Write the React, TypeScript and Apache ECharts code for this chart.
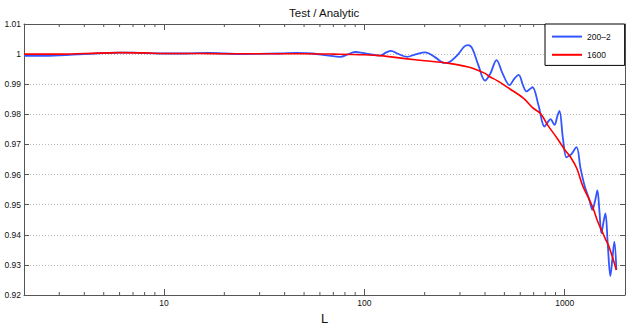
import React, { useEffect, useRef } from "react";
import * as echarts from "echarts";

const titleText = "Test / Analytic";
const xName = "L";
const legendNames = ["200–2", "1600"];

const blueL = [2, 2.5, 3, 3.5, 4, 5, 6, 7, 8, 10, 13, 16.5, 20, 25, 30, 38, 46, 55, 65, 76, 82, 90, 98, 106, 120, 128, 136, 146, 163, 180, 201, 225, 250, 262, 290, 315, 330, 345, 370, 400, 425, 457, 490, 531, 560, 589, 620, 645, 670, 691, 740, 793, 820, 849, 889, 920, 942, 980, 1021, 1060, 1081, 1145, 1200, 1260, 1328, 1374, 1420, 1456, 1490, 1525, 1560, 1597, 1640, 1690, 1730, 1770, 1811];
const blueV = [0.9994, 0.9994, 0.9996, 0.9998, 1.0, 1.0003, 1.0005, 1.0005, 1.0003, 1.0002, 1.0002, 1.0004, 1.0002, 1.0, 1.0001, 1.0002, 1.0004, 1.0002, 0.9996, 0.9991, 0.9998, 1.0007, 1.0004, 1.0, 0.9995, 1.0005, 1.0011, 1.0002, 0.9991, 0.9999, 1.0006, 0.999, 0.9971, 0.9972, 0.9995, 1.0025, 1.003, 1.002, 0.9965, 0.9912, 0.9935, 0.998, 0.9935, 0.9897, 0.9918, 0.9931, 0.9895, 0.9876, 0.9884, 0.989, 0.983, 0.9759, 0.9772, 0.9784, 0.9765, 0.9795, 0.9811, 0.972, 0.9657, 0.9664, 0.9668, 0.9691, 0.962, 0.956, 0.9516, 0.9483, 0.9515, 0.9547, 0.948, 0.9405, 0.944, 0.9471, 0.937, 0.9263, 0.932, 0.9377, 0.9283];

const redL = [2, 3, 4, 6, 8, 10, 15, 20, 30, 50, 70, 100, 120, 160, 200, 260, 330, 400, 422, 460, 531, 624, 691, 757, 821, 918, 1007, 1067, 1150, 1226, 1328, 1390, 1460, 1525, 1600, 1652, 1730, 1811];
const redV = [1.0, 1.0, 1.0002, 1.0005, 1.0004, 1.0002, 1.0002, 1.0001, 1.0001, 1.0001, 1.0, 0.9998, 0.9995, 0.9985, 0.9978, 0.997, 0.9957, 0.9936, 0.9925, 0.9912, 0.9885, 0.9853, 0.9822, 0.9803, 0.9765, 0.972, 0.968, 0.9659, 0.962, 0.9565, 0.9516, 0.9486, 0.9445, 0.9416, 0.9385, 0.9366, 0.9327, 0.9283];

const majorXLabels = [10, 100, 1000];
const minorXTicks = [3, 4, 5, 6, 7, 8, 9, 20, 30, 40, 50, 60, 70, 80, 90, 200, 300, 400, 500, 600, 700, 800, 900];

const X_MIN = 2;
const X_MAX = 2000;
const Y_MIN = 0.92;
const Y_MAX = 1.01;
const Y_STEP = 0.01;

const FONT = "'Liberation Sans', Arial, Helvetica, sans-serif";
const AXIS_COLOR = "#555";

export default function App() {
  const ref = useRef<HTMLDivElement>(null);
  useEffect(() => {
    if (!ref.current) return;
    const chart = echarts.init(ref.current, undefined, { renderer: "svg" });
    const axisCommon = {
      type: "log" as const,
      logBase: 10,
      min: X_MIN,
      max: X_MAX,
      axisLine: { show: true, lineStyle: { color: AXIS_COLOR, width: 1 } },
      axisTick: { show: true, inside: true, length: 6, lineStyle: { color: AXIS_COLOR } },
      splitLine: { show: false },
      minorTick: { show: false },
    };
    const yCommon = {
      type: "value" as const,
      min: Y_MIN,
      max: Y_MAX,
      interval: Y_STEP,
      axisLine: { show: true, lineStyle: { color: AXIS_COLOR, width: 1 } },
      axisTick: { show: true, inside: true, length: 5, lineStyle: { color: AXIS_COLOR } },
    };
    chart.setOption({
      animation: false,
      backgroundColor: "#fff",
      textStyle: { fontFamily: FONT },
      title: {
        text: titleText,
        left: 289,
        top: 7,
        padding: 0,
        textStyle: { fontSize: 11.5, fontWeight: "normal", color: "#111", fontFamily: FONT },
      },
      legend: {
        data: legendNames,
        orient: "vertical",
        left: 545,
        top: 24,
        padding: [7, 14, 5, 6],
        itemWidth: 30,
        itemHeight: 14,
        itemGap: 7,
        borderColor: "#000",
        borderWidth: 1,
        backgroundColor: "#fff",
        itemStyle: { opacity: 0 },
        textStyle: { fontSize: 8.5, color: "#111", fontFamily: FONT },
      },
      grid: { left: 24, right: 8, top: 24, bottom: 37, containLabel: false },
      xAxis: [
        {
          ...axisCommon,
          position: "bottom",
          name: xName,
          nameLocation: "middle",
          nameGap: 17,
          nameTextStyle: { fontSize: 13, color: "#111", fontFamily: FONT },
          axisLabel: {
            show: true,
            margin: 3,
            fontSize: 8.5,
            color: "#111",
            fontFamily: FONT,
            showMinLabel: false,
            showMaxLabel: false,
            formatter: (v: number) => {
              const r = Math.round(v);
              return majorXLabels.includes(r) && Math.abs(v - r) < 1e-6 ? String(r) : "";
            },
          },
        },
        {
          ...axisCommon,
          position: "top",
          axisLabel: { show: false },
        },
      ],
      yAxis: [
        {
          ...yCommon,
          position: "left",
          axisLabel: {
            margin: 3,
            fontSize: 8.5,
            color: "#111",
            fontFamily: FONT,
            formatter: (v: number) => String(parseFloat(v.toFixed(2))),
          },
          splitLine: { show: true, lineStyle: { color: "#bbb", type: [1, 2], width: 1 } },
        },
        {
          ...yCommon,
          position: "right",
          axisLabel: { show: false },
          splitLine: { show: false },
        },
      ],
      series: [
        {
          type: "custom",
          name: "minorTicks",
          xAxisIndex: 0,
          yAxisIndex: 0,
          silent: true,
          clip: false,
          data: minorXTicks.map((t) => [t, Y_MIN]),
          renderItem: (params: any, api: any) => {
            const xv = api.value(0);
            const b = api.coord([xv, Y_MIN]);
            const t = api.coord([xv, Y_MAX]);
            const st = { stroke: AXIS_COLOR, lineWidth: 1 };
            return {
              type: "group",
              children: [
                { type: "line", shape: { x1: b[0], y1: b[1], x2: b[0], y2: b[1] - 3 }, style: st },
                { type: "line", shape: { x1: t[0], y1: t[1], x2: t[0], y2: t[1] + 3 }, style: st },
              ],
            };
          },
          z: 3,
        },
        {
          type: "line",
          name: legendNames[0],
          data: blueL.map((l, i) => [l, blueV[i]]),
          showSymbol: false,
          symbol: "none",
          smooth: 0.35,
          lineStyle: { color: "#3355ff", width: 1.8 },
          itemStyle: { color: "#3355ff" },
          z: 4,
        },
        {
          type: "line",
          name: legendNames[1],
          data: redL.map((l, i) => [l, redV[i]]),
          showSymbol: false,
          symbol: "none",
          smooth: 0.35,
          lineStyle: { color: "#ff0000", width: 1.6 },
          itemStyle: { color: "#ff0000" },
          z: 5,
        },
      ],
    });
    return () => chart.dispose();
  }, []);
  return (
    <div
      ref={ref}
      style={{ position: "fixed", left: 0, top: 0, width: 633, height: 332, background: "#fff" }}
    />
  );
}
